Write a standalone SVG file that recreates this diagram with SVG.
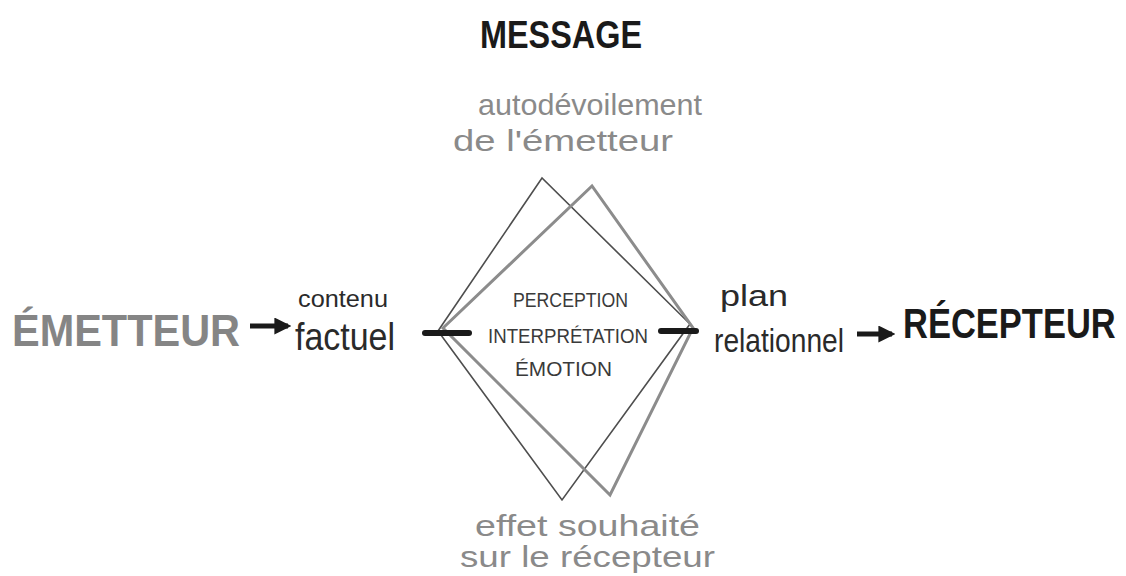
<svg xmlns="http://www.w3.org/2000/svg" width="1126" height="576" viewBox="0 0 1126 576">
<defs>
<style>
.hand{font-family:"Liberation Sans","DejaVu Sans",sans-serif;}
.title{font-family:"Liberation Sans","DejaVu Sans",sans-serif;font-weight:bold;}
.gray{fill:#8a8a8a;}
.dark{fill:#2a2a2a;}
.caps{font-family:"Liberation Sans","DejaVu Sans",sans-serif;fill:#3a3a3a;font-size:21px;}
.thin{fill:none;stroke:#4e4e4e;stroke-width:1.6;stroke-linejoin:miter;}
.thick{fill:none;stroke:#8c8c8c;stroke-width:3;stroke-linejoin:miter;}
.bar{stroke:#1a1a1a;stroke-width:6;stroke-linecap:round;}
.arr{stroke:#1a1a1a;stroke-width:5;fill:none;}
</style>
<marker id="ah" viewBox="0 0 10 10" refX="8" refY="5" markerWidth="3.4" markerHeight="3.4" markerUnits="strokeWidth" orient="auto">
<path d="M0,0 L10,5 L0,10 Z" fill="#1a1a1a"/>
</marker>
</defs>
<rect width="1126" height="576" fill="#ffffff"/>

<g id="message">
<text class="title" x="480" y="48" font-size="38" fill="#1a1a1a" textLength="162" lengthAdjust="spacingAndGlyphs">MESSAGE</text>
</g>

<g id="autodevoilement">
<text class="hand gray" x="478" y="115" font-size="30" textLength="224" lengthAdjust="spacingAndGlyphs">autodévoilement</text>
<text class="hand gray" x="453" y="151" font-size="30" textLength="220" lengthAdjust="spacingAndGlyphs">de l'émetteur</text>
</g>

<g id="effet">
<text class="hand gray" x="475" y="536" font-size="30" textLength="225" lengthAdjust="spacingAndGlyphs">effet souhaité</text>
<text class="hand gray" x="460" y="567" font-size="30" textLength="255" lengthAdjust="spacingAndGlyphs">sur le récepteur</text>
</g>

<g id="emetteur">
<text class="title" x="12" y="346" font-size="44" fill="#858585" textLength="228" lengthAdjust="spacingAndGlyphs">ÉMETTEUR</text>
</g>

<g id="recepteur">
<text class="title" transform="translate(903,338) scale(1,1.22)" x="0" y="0" font-size="34.5" fill="#1a1a1a">RÉCEPTEUR</text>
</g>

<g id="contenu">
<text class="hand dark" x="298" y="307" font-size="24" textLength="90" lengthAdjust="spacingAndGlyphs">contenu</text>
<text class="hand dark" x="295" y="350" font-size="38" textLength="100" lengthAdjust="spacingAndGlyphs">factuel</text>
</g>

<g id="plan">
<text class="hand dark" x="720" y="306" font-size="30" textLength="68" lengthAdjust="spacingAndGlyphs">plan</text>
<text class="hand dark" x="714" y="352" font-size="34" textLength="130" lengthAdjust="spacingAndGlyphs">relationnel</text>
</g>

<g id="message-shape">
<path class="thin" d="M438,331 L542,178 L690,324 L562,500 Z"/>
<path class="thick" d="M443,328 L592,186 L693,328 L610,495 Z"/>
<text class="caps" x="513" y="307" textLength="115" lengthAdjust="spacingAndGlyphs">PERCEPTION</text>
<text class="caps" x="488" y="343" textLength="160" lengthAdjust="spacingAndGlyphs">INTERPRÉTATION</text>
<text class="caps" x="515" y="376" textLength="97" lengthAdjust="spacingAndGlyphs">ÉMOTION</text>
</g>

<g id="connectors">
<line class="arr" x1="250" y1="326" x2="288" y2="326" marker-end="url(#ah)"/>
<line class="arr" x1="857" y1="334" x2="892" y2="334" marker-end="url(#ah)"/>
<line class="bar" x1="425" y1="333" x2="469" y2="333"/>
<line class="bar" x1="661" y1="331" x2="696" y2="331"/>
</g>
</svg>
